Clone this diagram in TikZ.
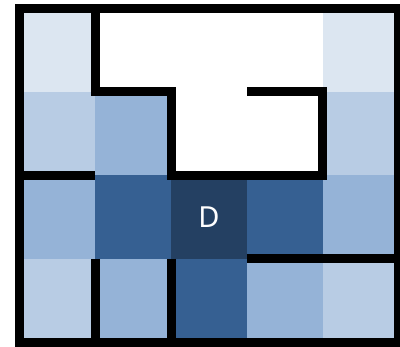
\documentclass[tikz,border=0pt]{standalone}
\usepackage{fontspec}
\newfontfamily\goalfont{Noto Sans}
\definecolor{dist0}{HTML}{244062}
\definecolor{dist1}{HTML}{366092}
\definecolor{dist2}{HTML}{95B3D7}
\definecolor{dist3}{HTML}{B8CCE4}
\definecolor{dist4}{HTML}{DCE6F1}
\tikzset{wall/.style={line width=9pt,line join=miter,line cap=butt}}

\begin{document}
\begin{tikzpicture}[x=75.8pt,y=-83.5pt]
\useasboundingbox (-19.5pt,8.5pt) rectangle (380.5pt,-338.5pt);
% distance colours, cell (col,row) from top left
\foreach \cx/\cy/\cc in {0/0/dist4,4/0/dist4,0/1/dist3,1/1/dist2,4/1/dist3,0/2/dist2,1/2/dist1,2/2/dist0,3/2/dist1,4/2/dist2,0/3/dist3,1/3/dist2,2/3/dist1,3/3/dist2,4/3/dist3} {\fill[\cc] (\cx,\cy) rectangle ++(1,1);}
\node[text=white,font=\goalfont\fontsize{29}{29}\selectfont] (goal) at (2.5,2.5) {D};
% walls
\draw[wall,line cap=rect] (0,0) rectangle (5,4);
\draw[wall] (1,0) -- (1,1) -- (2,1) -- (2,2) -- (4,2) -- (4,1) -- (3,1);
\draw[wall] (0,2) -- (1,2);
\draw[wall] (1,3) -- (1,4);
\draw[wall] (2,3) -- (2,4);
\draw[wall] (3,3) -- (5,3);
\end{tikzpicture}
\end{document}
